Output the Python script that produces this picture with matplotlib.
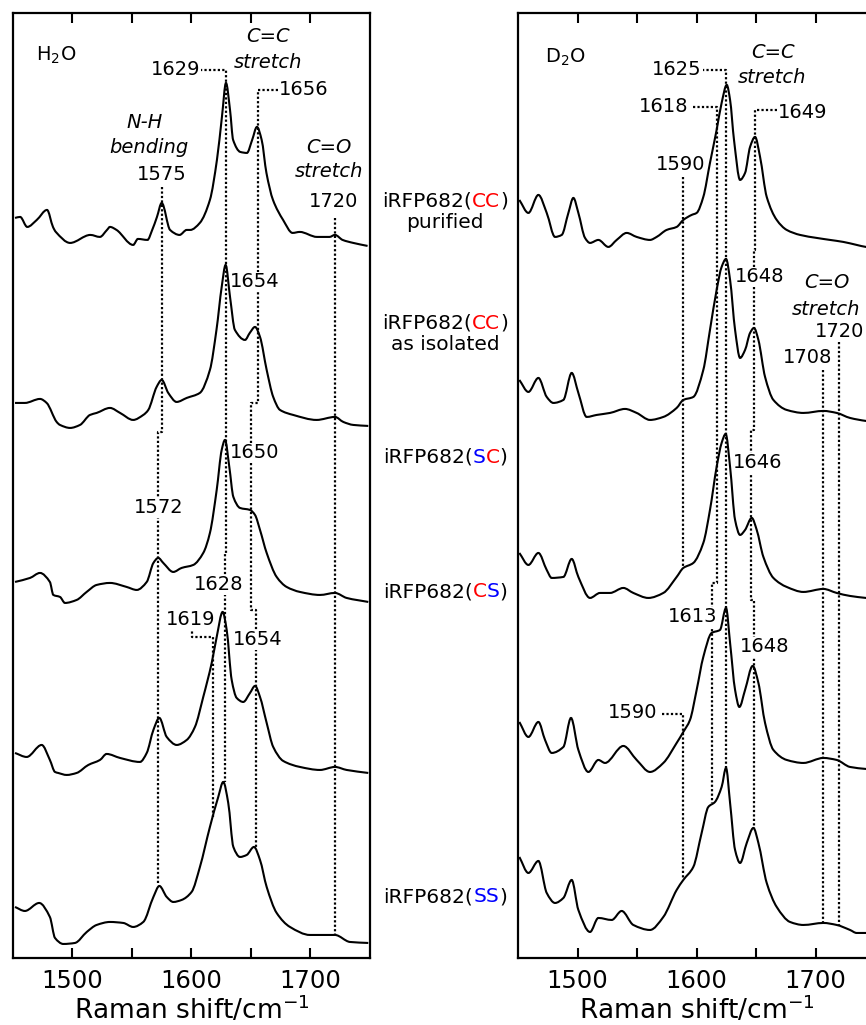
import matplotlib.pyplot as plt
import numpy as np
from matplotlib.offsetbox import TextArea, HPacker, VPacker, AnnotationBbox
from matplotlib.path import Path
from matplotlib.patches import PathPatch

# Raman spectra, (wavenumber / cm-1, intensity / a.u.)
# ---- H2O ----
h2o_cc_pur = [(1451.7, 32), (1456, 33), (1462, 23), (1470, 30), (1478.6, 40), (1483.6, 23),
              (1486, 18), (1498, 7), (1515, 15), (1523, 13), (1529, 20), (1531.5, 23),
              (1537, 20), (1551, 5), (1555, 11), (1563, 10), (1567, 20), (1571, 33),
              (1575, 47), (1582, 20), (1590, 15), (1596, 20), (1599, 20), (1607, 27),
              (1615.5, 50), (1621.4, 90), (1625.6, 133), (1629, 167), (1632.4, 140),
              (1635, 110), (1641, 98), (1646.6, 97), (1651, 110), (1655, 123), (1659, 110),
              (1663, 77), (1668.5, 50), (1677, 30), (1685, 17), (1691, 18), (1705.5, 13),
              (1716, 13), (1720.6, 15), (1727, 10), (1736, 7), (1748, 4)]
h2o_cc_iso = [(1451.7, 27), (1460, 27), (1472.7, 31), (1478.3, 27), (1486.7, 8), (1489.5, 5),
              (1498, 2), (1506.3, 5), (1514.7, 15), (1520.3, 17), (1531.5, 22), (1540, 17),
              (1551, 10), (1559.5, 15), (1563.7, 20), (1570.7, 43), (1575, 50), (1580.5, 37),
              (1587.5, 28), (1596, 32), (1607, 37), (1615.5, 60), (1621, 100), (1625.4, 143),
              (1628.7, 165), (1632.4, 133), (1636.5, 100), (1645, 90), (1649, 97),
              (1653.4, 103), (1657.6, 93), (1663.2, 60), (1668.7, 33), (1674.4, 20),
              (1685.5, 15), (1705.2, 10), (1720.6, 13), (1727.6, 8), (1736, 5), (1748.6, 4)]
h2o_sc = [(1451.7, 23), (1464.3, 27), (1472.7, 32), (1481, 23), (1483.9, 10), (1489.5, 8),
          (1493.7, 2), (1503.5, 5), (1511.9, 13), (1520.3, 20), (1531.5, 22), (1545.5, 18),
          (1554, 15), (1562.4, 23), (1568, 42), (1572.1, 47), (1576.3, 42), (1584.7, 33),
          (1591.7, 37), (1601.5, 40), (1609.9, 52), (1615.5, 72), (1621.2, 115),
          (1625.4, 155), (1628.2, 165), (1631.8, 138), (1635.2, 108), (1640.8, 97),
          (1649.2, 95), (1653.4, 90), (1657.6, 75), (1663.2, 52), (1671.6, 28), (1680, 18),
          (1691.2, 13), (1708, 10), (1720.6, 12), (1730.4, 7), (1748.6, 3)]
h2o_cs = [(1451.7, 25), (1461.5, 21), (1474.1, 33), (1481, 18), (1485.3, 6), (1488, 5),
          (1495.1, 3), (1503.5, 5), (1513.3, 13), (1523.1, 18), (1528.7, 24), (1540, 20),
          (1556.7, 16), (1562.4, 25), (1568, 48), (1573, 60), (1579.2, 41), (1587.6, 33),
          (1596, 38), (1602.9, 51), (1609.9, 81), (1617, 115), (1621.2, 141), (1626.2, 166),
          (1629.6, 148), (1633.8, 98), (1638, 80), (1643.5, 76), (1649.2, 85), (1653.4, 92),
          (1657.6, 81), (1663.2, 55), (1668.7, 31), (1677.1, 17), (1691.2, 11), (1708, 8),
          (1720.6, 11), (1730.4, 8), (1748.6, 5)]
h2o_ss = [(1451.7, 41), (1460, 37), (1472, 45), (1481, 31), (1485.3, 10), (1492.3, 4),
          (1502, 5), (1512, 16), (1520.3, 23), (1531.5, 26), (1542.7, 25), (1551, 21),
          (1559.5, 26), (1568, 51), (1573, 62), (1579.2, 51), (1584.7, 46), (1591.7, 48),
          (1600.1, 56), (1607.1, 81), (1615.5, 121), (1622.5, 151), (1626.7, 166),
          (1630.9, 145), (1635.2, 101), (1640.8, 91), (1646.4, 93), (1652.5, 101),
          (1657.6, 88), (1663.2, 61), (1671.6, 35), (1682.8, 21), (1699.6, 13),
          (1720.6, 13), (1733.2, 6), (1748.6, 5)]
# ---- D2O ----
d2o_cc_pur = [(1451.1, 50), (1458.7, 37), (1467.1, 55), (1474.1, 37), (1481.1, 13), (1486.7, 15),
              (1492.3, 37), (1496.5, 52), (1500.7, 37), (1506.3, 12), (1510.5, 7), (1517.5, 10),
              (1525.9, 3), (1532.9, 10), (1541.3, 17), (1549.7, 13), (1560.9, 10), (1566.5, 13),
              (1574.9, 20), (1583.3, 23), (1588.9, 30), (1595.9, 35), (1600.1, 37),
              (1605.7, 53), (1611.3, 87), (1616.9, 120), (1621.1, 147), (1625.4, 165),
              (1628.2, 150), (1631.5, 110), (1636.6, 70), (1640.8, 77), (1645, 103),
              (1649.2, 113), (1653.4, 93), (1659, 53), (1667.4, 30), (1675.8, 20), (1687, 15),
              (1701, 12), (1712.2, 10), (1723.4, 8), (1734.6, 5), (1742.4, 3), (1750, 2)]
d2o_cc_iso = [(1451.1, 45), (1458.7, 33), (1467.1, 47), (1474.1, 28), (1479.7, 22), (1488.1, 25),
              (1495.1, 52), (1500.7, 32), (1507.7, 8), (1516.1, 10), (1527.3, 12), (1539.9, 16),
              (1549.7, 12), (1560.9, 5), (1572.1, 8), (1583.3, 17), (1588.9, 25), (1597.3, 28),
              (1605.7, 55), (1611.3, 95), (1616.9, 135), (1621.1, 158), (1624.8, 166),
              (1628.2, 145), (1632.4, 95), (1636.6, 67), (1640.8, 75), (1645, 92),
              (1648.3, 97), (1652, 85), (1657.6, 48), (1664.6, 25), (1675.8, 15),
              (1689.8, 12), (1706.6, 14), (1717.8, 12), (1729, 7), (1742.4, 4), (1750, 3)]
d2o_sc = [(1451.1, 50), (1458.7, 38), (1467.1, 50), (1474.1, 33), (1478.3, 25), (1488.1, 26),
          (1495.1, 44), (1500.7, 26), (1510.5, 5), (1518.9, 10), (1527.3, 10), (1538.5, 15),
          (1546.9, 10), (1559.5, 5), (1572.1, 10), (1583.3, 26), (1588.9, 35), (1597.3, 40),
          (1605.7, 60), (1611.3, 93), (1616.9, 136), (1621.1, 160), (1624.5, 169),
          (1628.2, 136), (1632.4, 83), (1636.6, 68), (1640.8, 73), (1646.4, 85),
          (1650.6, 73), (1656.2, 46), (1664.6, 25), (1675.8, 16), (1689.8, 11),
          (1706.6, 14), (1717.8, 10), (1729, 7), (1742.4, 5), (1750, 4)]
d2o_cs = [(1451.1, 56), (1458.7, 41), (1467.1, 56), (1472.7, 38), (1478.3, 25), (1488.1, 31),
          (1494.5, 60), (1500.7, 28), (1509.1, 6), (1517.5, 18), (1523.1, 15), (1538.5, 32),
          (1549.7, 18), (1560.9, 6), (1572.1, 15), (1583.3, 35), (1588.9, 46), (1594.5, 58),
          (1600.1, 88), (1605.7, 121), (1612.7, 145), (1619.7, 148), (1624.8, 170),
          (1628.2, 135), (1632.4, 88), (1636, 71), (1640.8, 88), (1647.2, 112), (1652, 95),
          (1657.6, 55), (1664.6, 28), (1675.8, 18), (1689.8, 15), (1706.6, 20),
          (1717.8, 18), (1729, 11), (1742.4, 9), (1750, 8)]
d2o_ss = [(1451.1, 83), (1458.7, 67), (1467.1, 79), (1474.1, 47), (1481.1, 37), (1488.1, 42),
          (1495.1, 60), (1500.7, 30), (1510.5, 8), (1517.5, 22), (1528.7, 20), (1537.1, 29),
          (1546.9, 15), (1560.9, 10), (1572.1, 23), (1583.3, 50), (1588.9, 60), (1597.3, 73),
          (1604.3, 107), (1609.9, 133), (1615.5, 138), (1621.1, 153), (1624.8, 172),
          (1628.2, 137), (1632.4, 90), (1636.6, 77), (1642.2, 97), (1647.8, 112), (1652, 97),
          (1659, 57), (1667.4, 33), (1678.6, 18), (1689.8, 15), (1706.6, 17), (1717.8, 15),
          (1729, 10), (1734.6, 7), (1742.4, 7), (1750, 7)]

h2o_spectra = [h2o_cc_pur, h2o_cc_iso, h2o_sc, h2o_cs, h2o_ss]
d2o_spectra = [d2o_cc_pur, d2o_cc_iso, d2o_sc, d2o_cs, d2o_ss]
h2o_offsets = [708, 528, 353, 180, 10]
d2o_offsets = [708, 533, 355, 180, 18]

# sample names: list of (text, colour) pieces, optional second line
samples = [([("iRFP682(", "k"), ("CC", "red"), (")", "k")], "purified"),
           ([("iRFP682(", "k"), ("CC", "red"), (")", "k")], "as isolated"),
           ([("iRFP682(", "k"), ("S", "blue"), ("C", "red"), (")", "k")], None),
           ([("iRFP682(", "k"), ("C", "red"), ("S", "blue"), (")", "k")], None),
           ([("iRFP682(", "k"), ("SS", "blue"), (")", "k")], None)]
sample_y = [0.798, 0.679, 0.554, 0.4225, 0.125]

# dotted guide lines (wavenumber, height)
h2o_guides = [[(1575, 771), (1575, 526), (1572, 526), (1572, 75)],
              [(1607.5, 888), (1629, 888), (1629, 405), (1628, 405), (1628, 176)],
              [(1600.3, 331), (1600.3, 321), (1618.5, 321), (1618.5, 141)],
              [(1673, 868), (1656, 868), (1656, 555), (1650, 555), (1650, 348),
               (1654, 348), (1654, 111)],
              [(1721, 740), (1721, 23)]]
d2o_guides = [[(1604.6, 888), (1625, 888), (1625, 188)],
              [(1597, 851), (1617.5, 851), (1617.5, 375), (1613, 375), (1613, 155)],
              [(1667.5, 848), (1649, 848), (1649, 708), (1648, 708), (1648, 528),
               (1646, 528), (1646, 358), (1648, 358), (1648, 130)],
              [(1589, 781), (1589, 391)],
              [(1570.7, 244), (1589, 244), (1589, 80)],
              [(1706.6, 588), (1706.6, 35)],
              [(1720, 616), (1720, 33)]]

# peak labels: (x, y, text, ha)
h2o_labels = [(1607.3, 888, "1629", "right"), (1673.5, 868, "1656", "left"),
              (1575, 783, "1575", "center"), (1719, 756, "1720", "center"),
              (1632.4, 676, "1654", "left"), (1632.4, 505, "1650", "left"),
              (1572.5, 450, "1572", "center"), (1623, 373, "1628", "center"),
              (1599.6, 338, "1619", "center"), (1655.5, 318, "1654", "center")]
d2o_labels = [(1604.4, 888, "1625", "right"), (1593, 851, "1618", "right"),
              (1668, 845, "1649", "left"), (1587, 793, "1590", "center"),
              (1632.4, 681, "1648", "left"), (1720.5, 626, "1720", "center"),
              (1693.3, 600, "1708", "center"), (1630.7, 495, "1646", "left"),
              (1617.3, 341, "1613", "right"), (1636.5, 311, "1648", "left"),
              (1566.8, 245, "1590", "right")]
# italic mode labels: (x, y, text)
h2o_modes = [(1664, 921, "C=C"), (1664, 895, "stretch"), (1561, 835, "N-H"),
             (1564, 810, "bending"), (1715.5, 810, "C=O"), (1715.5, 786, "stretch")]
d2o_modes = [(1664.3, 905, "C=C"), (1663.6, 880, "stretch"), (1709.6, 675, "C=O"),
             (1709, 648, "stretch")]


def smooth_trace(ax, x, y, **kw):
    # draw a smooth curve through the read points (monotone cubic Bezier segments)
    dx = np.diff(x)
    d = np.diff(y) / dx
    m = np.zeros(len(x))
    m[0], m[-1] = d[0], d[-1]
    for i in range(1, len(x) - 1):
        if d[i - 1] * d[i] > 0:
            m[i] = 2.0 / (1.0 / d[i - 1] + 1.0 / d[i])
    verts = [(x[0], y[0])]
    codes = [Path.MOVETO]
    for i in range(len(x) - 1):
        h = dx[i]
        verts += [(x[i] + h / 3, y[i] + m[i] * h / 3),
                  (x[i + 1] - h / 3, y[i + 1] - m[i + 1] * h / 3),
                  (x[i + 1], y[i + 1])]
        codes += [Path.CURVE4] * 3
    ax.add_patch(PathPatch(Path(verts, codes), fill=False, **kw))


fig = plt.figure(figsize=(8.66, 10.25), dpi=100)
ax1 = fig.add_axes([0.0150, 0.0654, 0.4122, 0.9220])
ax2 = fig.add_axes([0.5982, 0.0654, 0.4122, 0.9220])

panels = [(ax1, h2o_spectra, h2o_offsets, h2o_guides, h2o_labels, h2o_modes, "H$_2$O", 1469.3, 903),
          (ax2, d2o_spectra, d2o_offsets, d2o_guides, d2o_labels, d2o_modes, "D$_2$O", 1472.7, 901)]

for ax, spectra, offs, guides, labels, modes, solv, sx, sy in panels:
    for spec, off in zip(spectra, offs):
        wn, inten = np.array(spec).T
        smooth_trace(ax, wn, inten + off, edgecolor="black", lw=1.5, zorder=3)
    for g in guides:
        gx, gy = np.array(g).T
        ax.plot(gx, gy, color="black", lw=1.6, ls=(0, (1, 1)), zorder=1)
    for x, y, t, ha in labels:
        ax.text(x, y, t, ha=ha, va="center", fontsize=14, zorder=2,
                bbox=dict(facecolor="white", edgecolor="none", pad=0.5))
    for x, y, t in modes:
        ax.text(x, y, t, ha="center", va="center", fontsize=14, style="italic", zorder=2)
    ax.text(sx, sy, solv, ha="left", va="center", fontsize=14)

    ax.set_xlim(1450, 1750)
    ax.set_ylim(0, 945)
    ax.set_yticks([])
    ax.set_xticks([1500, 1600, 1700])
    ax.set_xticks([1550, 1650], minor=True)
    ax.tick_params(axis="x", which="both", direction="in", top=True, length=7, width=1.5,
                   labelsize=17.5, pad=8)
    for s in ax.spines.values():
        s.set_linewidth(1.6)
    ax.set_xlabel("Raman shift/cm$^{-1}$", fontsize=19, labelpad=1)

# sample names between the panels
for (pieces, sub), y in zip(samples, sample_y):
    row = HPacker(children=[TextArea(t, textprops=dict(color=c, fontsize=14.5)) for t, c in pieces],
                  pad=0, sep=0, align="baseline")
    if sub:
        box = VPacker(children=[row, TextArea(sub, textprops=dict(fontsize=14.5))],
                      pad=0, sep=2, align="center")
    else:
        box = row
    ab = AnnotationBbox(box, (0.514, y), xycoords="figure fraction", frameon=False,
                        box_alignment=(0.5, 0.5 if sub is None else 0.62))
    fig.add_artist(ab)

fig.savefig("out.png", dpi=100)
